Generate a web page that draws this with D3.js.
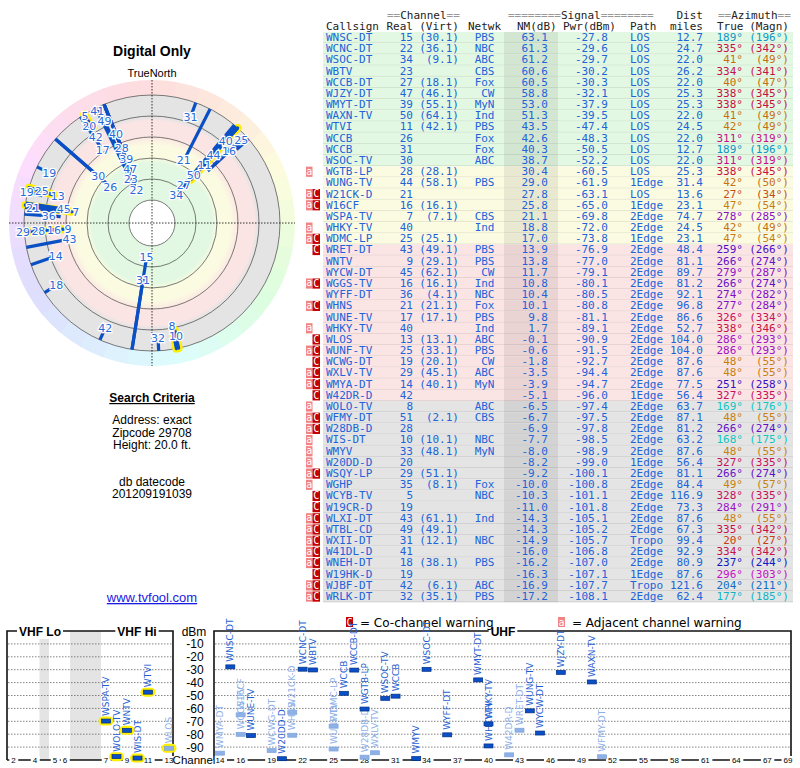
<!DOCTYPE html>
<html>
<head>
<meta charset="utf-8">
<script src="https://cdn.jsdelivr.net/npm/d3@7/dist/d3.min.js"></script>
<style>
  body { margin: 0; background: #fff; }
  svg { display: block; }
</style>
</head>
<body>
<div id="chart"></div>
<script>
// station table, one entry per row
const callsigns = ["WNSC-DT","WCNC-DT","WSOC-DT","WBTV","WCCB-DT","WJZY-DT","WMYT-DT","WAXN-TV","WTVI","WCCB","WCCB","WSOC-TV",
  "WGTB-LP","WUNG-TV","W21CK-D","W16CF","WSPA-TV","WHKY-TV","WDMC-LP",
  "WRET-DT","WNTV","WYCW-DT","WGGS-TV","WYFF-DT","WHNS","WUNE-TV","WHKY-TV","WLOS","WUNF-TV","WCWG-DT","WXLV-TV","WMYA-DT","W42DR-D",
  "WOLO-TV","WFMY-DT","W28DB-D","WIS-DT","WMYV","W20DD-D","WSQY-LP","WGHP","WCYB-TV","W19CR-D","WLXI-DT","WTBL-CD","WXII-DT","W41DL-D","WNEH-DT","W19HK-D","WJBF-DT","WRLK-DT"];
const realCh = [15,22,34,23,27,47,39,50,11,26,31,30, 28,44,21,16,7,40,25, 43,9,45,16,36,21,17,40,13,25,19,29,14,42,
  8,51,28,10,33,20,29,35,5,19,43,49,31,41,18,19,42,32];
const virtCh = ["30.1","36.1","9.1","","18.1","46.1","55.1","64.1","42.1","","","", "28.1","58.1","","16.1","7.1","","25.1",
  "49.1","29.1","62.1","16.1","4.1","21.1","17.1","","13.1","33.1","20.1","45.1","40.1","",
  "","2.1","","10.1","48.1","","51.1","8.1","","","61.1","49.1","12.1","","38.1","","6.1","35.1"];
const networks = ["PBS","NBC","ABC","CBS","Fox","CW","MyN","Ind","PBS","Fox","Fox","ABC", "","PBS","","","CBS","Ind","",
  "PBS","PBS","CW","Ind","NBC","Fox","PBS","Ind","ABC","PBS","CW","ABC","MyN","",
  "ABC","CBS","","NBC","MyN","","","Fox","NBC","","Ind","","NBC","","PBS","","ABC","PBS"];
const nmDb = [63.1,61.3,61.2,60.6,60.5,58.8,53.0,51.3,43.5,42.6,40.3,38.7, 30.4,29.0,27.8,25.8,21.1,18.8,17.0,
  13.9,13.8,11.7,10.8,10.4,10.1,9.8,1.7,-0.1,-0.6,-1.8,-3.5,-3.9,-5.1,
  -6.5,-6.7,-6.9,-7.7,-8.0,-8.2,-9.2,-10.0,-10.3,-11.0,-14.3,-14.3,-14.9,-16.0,-16.2,-16.3,-16.9,-17.2];
const pwrDbm = [-27.8,-29.6,-29.7,-30.2,-30.3,-32.1,-37.9,-39.5,-47.4,-48.3,-50.5,-52.2, -60.5,-61.9,-63.1,-65.0,-69.8,-72.0,-73.8,
  -76.9,-77.0,-79.1,-80.1,-80.5,-80.8,-81.1,-89.1,-90.9,-91.5,-92.7,-94.4,-94.7,-96.0,
  -97.4,-97.5,-97.8,-98.5,-98.9,-99.0,-100.1,-100.8,-101.1,-101.8,-105.1,-105.2,-105.7,-106.8,-107.0,-107.1,-107.7,-108.1];
const paths = ["LOS","LOS","LOS","LOS","LOS","LOS","LOS","LOS","LOS","LOS","LOS","LOS", "LOS","1Edge","LOS","1Edge","2Edge","2Edge","1Edge",
  "2Edge","2Edge","2Edge","2Edge","2Edge","2Edge","2Edge","2Edge","2Edge","2Edge","2Edge","2Edge","2Edge","1Edge",
  "2Edge","2Edge","2Edge","2Edge","2Edge","1Edge","2Edge","2Edge","2Edge","2Edge","2Edge","2Edge","Tropo","2Edge","2Edge","1Edge","Tropo","2Edge"];
const distMi = [12.7,24.7,22.0,26.2,22.0,25.3,25.3,22.0,24.5,22.0,12.7,22.0, 25.3,31.4,13.6,23.1,74.7,24.5,23.1,
  48.4,81.1,89.7,81.2,92.1,96.8,86.6,52.7,104.0,104.0,87.6,87.6,77.5,56.4,
  63.7,87.1,81.2,63.2,87.6,56.4,81.1,84.4,116.9,73.3,87.6,67.3,99.4,92.9,80.9,87.6,121.6,62.4];
const azTrue = [189,335,41,334,40,338,338,41,42,311,189,311, 338,42,27,47,278,42,47,
  259,266,279,266,274,277,326,338,286,286,48,48,251,327,
  169,48,266,168,48,327,266,49,328,284,48,335,20,334,237,296,204,177];
const azMagn = [196,342,49,341,47,345,345,49,49,319,196,319, 345,50,34,54,285,49,54,
  266,274,287,274,282,284,334,346,293,293,55,55,258,335,
  176,55,274,175,55,335,274,57,335,291,55,342,27,342,244,303,211,185];
const adjWarn = [0,0,0,0,0,0,0,0,0,0,0,0, 1,0,1,1,0,1,1, 0,0,0,1,0,1,0,1,0,1,0,1,1,0,
  1,1,1,1,1,1,1,1,0,0,1,1,1,1,1,0,1,1];
const coWarn = [0,0,0,0,0,0,0,0,0,0,0,0, 0,0,1,1,0,0,1, 1,0,0,1,0,1,0,0,1,1,1,1,1,1,
  0,1,1,0,0,0,1,0,1,1,1,1,1,1,1,1,1,1];

const vhfTicks = [2,4,5,6,7,9,11,13];
const uhfTicks = [14,16,19,22,25,28,31,34,37,40,43,46,49,52,55,58,61,64,67,69];
const dbmTicks = [-10,-20,-30,-40,-50,-60,-70,-80,-90];
const ringLevels = [75,54,33,12,-9,-30];

const mono = "'DejaVu Sans Mono', monospace";
const sans = "'Liberation Sans', Arial, sans-serif";
const dvs = "'DejaVu Sans', Verdana, sans-serif";
const blue = "#2163d8";
const n = callsigns.length;

const svg = d3.select("#chart").append("svg").attr("width", 800).attr("height", 768);

// colour for an azimuth (same wheel for text and the polar rim)
const hueOf = d3.scaleLinear().domain([0,50,170,240,290,315,360]).range([0,38,180,240,292,325,360]);
const azColor = a => d3.hsl(hueOf(a), 0.85, 0.42).toString();
function zone(v) { return v >= 35 ? "green" : v >= 15 ? "yellow" : v >= -6 ? "pink" : "gray"; }
const zoneFill = {green: "#e2f8e2", yellow: "#fbfbe1", pink: "#fbe4e4", gray: "#e4e4e4"};

// ---------------- table ----------------
const rowY = d3.scaleBand().domain(d3.range(n)).range([32, 32 + n * 11.18]);
const tbl = svg.append("g").style("font-family", mono).style("font-size", "11px");

const h1 = tbl.append("g").attr("transform", "translate(0,19)");
function eqText(x, pre, word, post) {
  const t = h1.append("text").attr("x", x);
  t.append("tspan").attr("fill", "#999").text(pre);
  t.append("tspan").attr("fill", "#222").text(word);
  t.append("tspan").attr("fill", "#999").text(post);
}
eqText(387, "==", "Channel", "==");
eqText(508, "========", "Signal", "========");
eqText(718, "==", "Azimuth", "==");
h1.append("text").attr("x", 703).attr("text-anchor", "end").attr("fill", "#222").text("Dist");

const heads = [["Callsign",326,"start"],["Real",413,"end"],["(Virt)",459,"end"],["Netwk",468,"start"],["NM(dB)",517,"start"],
  ["Pwr(dBm)",563,"start"],["Path",630,"start"],["miles",703,"end"],["True",717,"start"],["(Magn)",789,"end"]];
tbl.selectAll("text.hd").data(heads).join("text").attr("class","hd")
  .attr("x", d => d[1]).attr("y", 30).attr("text-anchor", d => d[2]).attr("fill", "#222").text(d => d[0]);

const rows = tbl.selectAll("g.row").data(d3.range(n)).join("g").attr("class","row")
  .attr("transform", i => `translate(0,${rowY(i)})`);
const rh = rowY.bandwidth();
rows.append("rect").attr("x", 323).attr("width", 470).attr("height", rh).attr("fill", i => zoneFill[zone(nmDb[i])]);
rows.append("rect").attr("x", 504).attr("width", 54).attr("height", rh).attr("fill", "rgba(0,0,0,0.07)");
rows.append("line").attr("x1", 323).attr("x2", 793).attr("y1", rh - 0.3).attr("y2", rh - 0.3)
  .attr("stroke", "rgba(0,0,0,0.13)").attr("stroke-width", 0.8);

const adjRows = rows.filter(i => adjWarn[i]);
adjRows.append("rect").attr("x", 306).attr("y", 0.5).attr("width", 6.5).attr("height", rh - 1).attr("fill", "#f08484");
adjRows.append("text").attr("x", 309.3).attr("y", 8.5).attr("text-anchor","middle").attr("fill","#fff").style("font-size","10px").text("a");
const coRows = rows.filter(i => coWarn[i]);
coRows.append("rect").attr("x", 312.5).attr("y", 0.5).attr("width", 7.5).attr("height", rh - 1).attr("fill", "#c40000");
coRows.append("text").attr("x", 316.3).attr("y", 8.8).attr("text-anchor","middle").attr("fill","#fff").style("font-size","10px").text("C");

const cols = [
  [326, "start", i => callsigns[i]],
  [413, "end", i => realCh[i]],
  [459, "end", i => virtCh[i] ? `(${virtCh[i]})` : ""],
  [494.5, "end", i => networks[i]],
  [548, "end", i => nmDb[i].toFixed(1)],
  [608, "end", i => pwrDbm[i].toFixed(1)],
  [630, "start", i => paths[i]],
  [703, "end", i => distMi[i].toFixed(1)]
];
cols.forEach(c => {
  rows.append("text").attr("x", c[0]).attr("y", 9).attr("text-anchor", c[1]).attr("fill", blue).text(c[2]);
});
rows.append("text").attr("x", 743).attr("y", 9).attr("text-anchor","end").attr("fill", i => azColor(azTrue[i])).text(i => azTrue[i] + "°");
rows.append("text").attr("x", 789).attr("y", 9).attr("text-anchor","end").attr("fill", i => azColor(azTrue[i])).text(i => `(${azMagn[i]}°)`);

// ---------------- left side texts ----------------
const left = svg.append("g").style("font-family", sans).attr("text-anchor", "middle");
left.append("text").attr("x", 152).attr("y", 56).style("font-size","14px").style("font-weight","bold").text("Digital Only");
left.append("text").attr("x", 152).attr("y", 77).style("font-size","11px").text("TrueNorth");
left.append("text").attr("x", 139).attr("y", 94).style("font-size","11px").attr("fill","#d00000").text("N");
left.append("text").attr("x", 152).attr("y", 402).style("font-size","12px").style("font-weight","bold")
  .style("text-decoration","underline").text("Search Criteria");
[["Address: exact",424],["Zipcode 29708",436.5],["Height: 20.0 ft.",448.5],["db datecode",486],["201209191039",497.5]]
  .forEach(d => left.append("text").attr("x", 152).attr("y", d[1]).style("font-size","12px").text(d[0]));
left.append("text").attr("x", 152).attr("y", 602).style("font-size","13px").attr("fill","#1a1ae0")
  .style("text-decoration","underline").text("www.tvfool.com");

// ---------------- polar plot ----------------
const cx = 152, cy = 223;
const rScale = d3.scaleLinear().domain([63, -17]).range([35, 115]);
const rMax = rScale(-30), rRim = rScale(-45);
const pol = svg.append("g");
function pt(az, r) { const a = az * Math.PI / 180; return [cx + r * Math.sin(a), cy - r * Math.cos(a)]; }

const rim = d3.arc().innerRadius(rMax).outerRadius(rRim);
pol.selectAll("path.rim").data(d3.range(0, 360, 10)).join("path").attr("class","rim")
  .attr("transform", `translate(${cx},${cy})`)
  .attr("d", a => rim({startAngle: a * Math.PI / 180, endAngle: (a + 10.3) * Math.PI / 180}))
  .attr("fill", a => d3.hsl(hueOf(a + 5), 0.9, 0.93).toString());

const grad = svg.append("defs").append("radialGradient").attr("id","zones")
  .attr("gradientUnits","userSpaceOnUse").attr("cx",cx).attr("cy",cy).attr("r",rMax);
[[0,"green"],[38,"green"],[32,"yellow"],[20,"yellow"],[10,"pink"],[-4,"pink"],[-8,"gray"],[-30,"gray"]].forEach(s => {
  const off = s[0] === 0 ? 0 : rScale(s[0]) / rMax;
  grad.append("stop").attr("offset", off).attr("stop-color", zoneFill[s[1]]);
});
pol.append("circle").attr("cx",cx).attr("cy",cy).attr("r",rMax).attr("fill","url(#zones)");
pol.selectAll("circle.ring").data(ringLevels).join("circle").attr("class","ring")
  .attr("cx",cx).attr("cy",cy).attr("r", d => rScale(d))
  .attr("fill", (d, k) => k === 0 ? "#fff" : "none").attr("stroke","#444").attr("stroke-width",0.7);
pol.append("line").attr("x1",cx - rRim).attr("x2",cx + rRim).attr("y1",cy).attr("y2",cy)
  .attr("stroke","#000").attr("stroke-width",0.8).attr("stroke-dasharray","1.5,1.5");
pol.append("line").attr("x1",cx).attr("x2",cx).attr("y1",cy - rRim).attr("y2",cy + rRim)
  .attr("stroke","#000").attr("stroke-width",0.8).attr("stroke-dasharray","1.5,1.5");

const idx = d3.range(n);
const seg = i => { const r0 = Math.min(rScale(nmDb[i]) + 4, rMax - 3); return [pt(azTrue[i], r0), pt(azTrue[i], rMax)]; };
const vhf = i => realCh[i] <= 13;
pol.selectAll("line.hl").data(idx.filter(vhf)).join("line").attr("class","hl")
  .attr("x1", i => seg(i)[0][0]).attr("y1", i => seg(i)[0][1]).attr("x2", i => seg(i)[1][0]).attr("y2", i => seg(i)[1][1])
  .attr("stroke","#ffee00").attr("stroke-width",8).attr("stroke-linecap","round");
pol.selectAll("line.st").data(idx).join("line").attr("class","st")
  .attr("x1", i => seg(i)[0][0]).attr("y1", i => seg(i)[0][1]).attr("x2", i => seg(i)[1][0]).attr("y2", i => seg(i)[1][1])
  .attr("stroke","#0a4fc4").attr("stroke-width",3.2).attr("stroke-linecap", i => vhf(i) ? "round" : "butt");

// labels pushed outward along their ray until free; dropped if they would leave the rim
const placed = [];
idx.slice().sort((a, b) => nmDb[b] - nmDb[a]).forEach(i => {
  const w = String(realCh[i]).length * 7 + 1, h = 10;
  for (let r = rScale(nmDb[i]); r <= rMax + 8; r += 1) {
    const [x, y] = pt(azTrue[i], r);
    const b = {x0: x - w / 2, x1: x + w / 2, y0: y - h / 2, y1: y + h / 2, x, y, i};
    if (!placed.some(p => p.x0 < b.x1 && b.x0 < p.x1 && p.y0 < b.y1 && b.y0 < p.y1)) { placed.push(b); break; }
  }
});
pol.selectAll("text.lb").data(placed).join("text").attr("class","lb")
  .attr("x", d => d.x).attr("y", d => d.y + 4).attr("text-anchor","middle")
  .style("font-family", dvs).style("font-size","11px")
  .attr("fill", "#2a6ad6").attr("stroke","#fff").attr("stroke-width",2.5).attr("paint-order","stroke")
  .text(d => realCh[d.i]);

// ---------------- spectrum chart ----------------
const vx = d3.scaleLinear().domain([2,4,5,6,7,13]).range([13.5,35,55,65,106,169]);
const ux = d3.scaleLinear().domain([14,69]).range([220,788]);
const sy = d3.scaleLinear().domain([0,-100]).range([631,760]);
const chX = c => c <= 13 ? vx(c) : ux(c);
const sp = svg.append("g");
const boxes = [[7,173],[214,791]];

sp.append("rect").attr("x", vx(4) + 4.5).attr("y", sy(0)).attr("width", vx(5) - 6 - vx(4) - 4.5).attr("height", sy(-100) - sy(0)).attr("fill","#e4e4e4");
sp.append("rect").attr("x", vx(6) + 5).attr("y", sy(0)).attr("width", vx(7) - 5 - vx(6) - 5).attr("height", sy(-100) - sy(0)).attr("fill","#e4e4e4");

boxes.forEach(b => {
  sp.selectAll(null).data(dbmTicks).join("line")
    .attr("x1", b[0] + 1).attr("x2", b[1] - 1).attr("y1", d => sy(d)).attr("y2", d => sy(d))
    .attr("stroke","#666").attr("stroke-width",0.8).attr("stroke-dasharray","1.5,1.5");
  sp.append("path").attr("d", `M${b[0]},${sy(-100)}V${sy(0)}H${b[1]}V${sy(-100)}`)
    .attr("fill","none").attr("stroke","#111").attr("stroke-width",1.6);
  sp.append("line").attr("x1", b[0]).attr("x2", b[1]).attr("y1", sy(-100)).attr("y2", sy(-100))
    .attr("stroke","#111").attr("stroke-width",1.6);
});

function boxedText(g, x, y, txt, size, weight) {
  const t = g.append("text").attr("x", x).attr("y", y).attr("text-anchor","middle")
    .style("font-family", sans).style("font-size", size).style("font-weight", weight).text(txt);
  const bb = t.node().getBBox();
  g.insert("rect", () => t.node()).attr("x", bb.x - 2).attr("y", bb.y).attr("width", bb.width + 4).attr("height", bb.height).attr("fill","#fff");
}
boxedText(sp, 40, 636, "VHF Lo", "12px", "bold");
boxedText(sp, 137, 636, "VHF Hi", "12px", "bold");
boxedText(sp, 503, 636, "UHF", "12px", "bold");

const tickG = sp.append("g");
vhfTicks.forEach(c => boxedText(tickG, vx(c), sy(-100) + 3, c, "8px", "normal"));
uhfTicks.forEach(c => boxedText(tickG, ux(c), sy(-100) + 3, c, "8px", "normal"));

sp.append("text").attr("x", 194).attr("y", 636).attr("text-anchor","middle").style("font-family", sans).style("font-size","12px").text("dBm");
sp.selectAll("text.db").data(dbmTicks).join("text").attr("class","db")
  .attr("x", 195).attr("y", d => sy(d) + 4.5).attr("text-anchor","middle")
  .style("font-family", sans).style("font-size","12px").text(d => d);
sp.append("text").attr("x", 194).attr("y", 764).attr("text-anchor","middle").style("font-family", sans).style("font-size","11.5px").text("Channel");

// legend
function legendIcon(x, y, fill, ch) {
  sp.append("rect").attr("x", x).attr("y", y).attr("width", 7).attr("height", 10).attr("fill", fill);
  sp.append("text").attr("x", x + 3.5).attr("y", y + 8.5).attr("text-anchor","middle").attr("fill","#fff")
    .style("font-family", mono).style("font-size","10px").text(ch);
}
legendIcon(346, 617, "#c40000", "C");
sp.append("text").attr("x", 360).attr("y", 627).style("font-family", dvs).style("font-size","12px").text("= Co-channel warning");
legendIcon(558, 617, "#f08484", "a");
sp.append("text").attr("x", 572).attr("y", 627).style("font-family", dvs).style("font-size","12px").text("= Adjacent channel warning");

// station marks
const shown = idx.filter(i => pwrDbm[i] >= -100).sort((a, b) => coWarn[b] - coWarn[a]);
const markG = sp.append("g");
markG.selectAll("text.sl").data(shown).join("text").attr("class","sl")
  .attr("transform", i => `translate(${chX(realCh[i])},${sy(pwrDbm[i]) - 5}) rotate(-90)`)
  .attr("dy","0.35em").style("font-family", dvs).style("font-size","9px")
  .attr("fill", i => coWarn[i] ? "#8cb0e8" : "#1f5fd2").text(i => callsigns[i]);
markG.selectAll("rect.yl").data(shown.filter(vhf)).join("rect").attr("class","yl")
  .attr("x", i => chX(realCh[i]) - 7.5).attr("y", i => sy(pwrDbm[i]) - 4.5).attr("width", 15).attr("height", 9).attr("rx", 4.5)
  .attr("fill","#ffee00");
markG.selectAll("rect.bar").data(shown).join("rect").attr("class","bar")
  .attr("x", i => chX(realCh[i]) - 4.5).attr("y", i => sy(pwrDbm[i]) - 2).attr("width", 9).attr("height", 4)
  .attr("fill", i => coWarn[i] ? "#8db0e6" : "#0a4fc8")
  .attr("stroke", i => coWarn[i] ? "#7fa4dc" : "#00307f").attr("stroke-width", 0.7);
</script>
</body>
</html>
